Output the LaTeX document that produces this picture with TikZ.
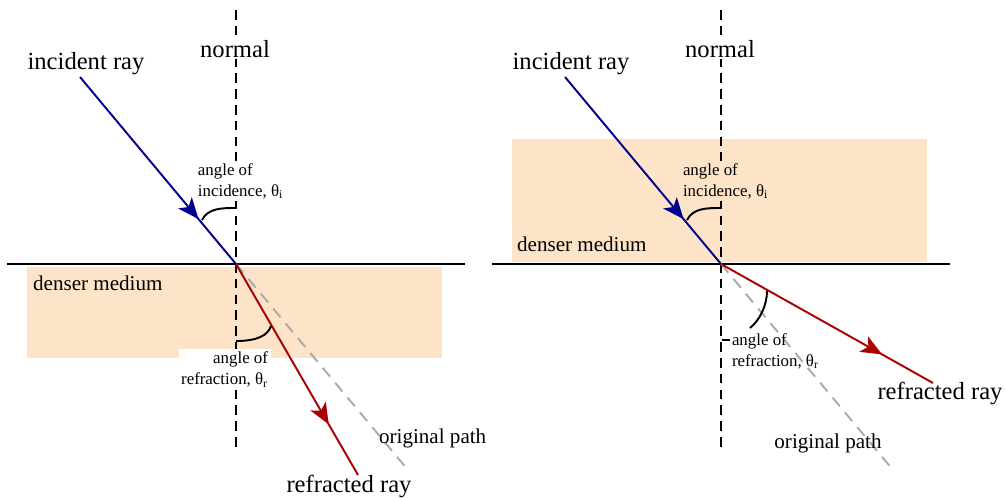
\documentclass[tikz,border=0pt]{standalone}
\usepackage{fontspec}
\setmainfont{Liberation Serif}
\usetikzlibrary{arrows.meta, decorations.markings}
\definecolor{rayblue}{RGB}{0,0,140}
\definecolor{rayred}{RGB}{170,0,0}
\definecolor{denserfill}{RGB}{253,227,199}
\definecolor{pathgray}{RGB}{170,170,170}

\begin{document}
\begin{tikzpicture}[
      x=0.02cm, y=-0.02cm,
      normalline/.style={dash pattern=on 5.5pt off 3.5pt, line width=1.1pt},
      surface/.style={line width=1.3pt},
      ray/.style={line width=1.1pt, draw=#1, postaction={decorate},
                  decoration={markings, mark=at position 0.76 with
                  {\arrow[#1]{Stealth[length=12pt, width=10pt, inset=3pt]}}}},
      oldpath/.style={draw=pathgray, line width=1.1pt, dash pattern=on 6.5pt off 4.5pt},
      anglearc/.style={line width=1.1pt},
      biglabel/.style={font=\fontsize{14}{16}\selectfont, inner sep=1pt},
      medlabel/.style={font=\fontsize{12}{14}\selectfont, inner sep=1pt},
      anglelabel/.style={font=\fontsize{9.6}{11.9}\selectfont, inner sep=1.5pt}
  ]
    \useasboundingbox (0,0) rectangle (1006,497);

    % ---- left: ray enters the denser medium
    \fill[denserfill] (27,267) rectangle (442,358);
    \coordinate (top1) at (236,10);
    \coordinate (bot1) at (236,450);
    \coordinate (O1)   at (236,264);
    \coordinate (src1) at (80,77);
    \coordinate (ref1) at (358,475);
    \coordinate (old1) at (408,470);
    \draw[normalline] (top1) -- (bot1);
    \draw[surface] (7,264) -- (465,264);
    \draw[oldpath] (O1) -- (old1);
    \draw[ray=rayblue] (src1) -- (O1);
    \draw[ray=rayred]  (O1) -- (ref1);
    \draw[anglearc] (202,220) .. controls (208,208) and (222,208) .. (236,208);
    \draw[anglearc] (236,341) .. controls (258,341) and (268,335) .. (271,326);

    \node[biglabel] (inc1) at (86,64) {incident ray};
    \node[biglabel, fill=white] (nrm1) at (235,49) {normal};
    \node[anglelabel, fill=white, anchor=west, align=left] (ai1) at (195,181)
      {angle of\\incidence, θ\textsubscript{i}};
    \node[medlabel, anchor=west] (med1) at (31,283) {denser medium};
    \node[anglelabel, fill=white, anchor=north east, align=right] (ar1) at (271,349)
      {angle of\\refraction, θ\textsubscript{r}};
    \node[medlabel, anchor=west] (op1) at (377,438) {original path};
    \node[biglabel] (rr1) at (349,486) {refracted ray};

    % ---- right: ray leaves the denser medium
    \fill[denserfill] (512,139) rectangle (927,262);
    \coordinate (top2) at (721,10);
    \coordinate (bot2) at (721,450);
    \coordinate (O2)   at (721,264);
    \coordinate (src2) at (565,77);
    \coordinate (ref2) at (933,383);
    \coordinate (old2) at (893,470);
    \draw[normalline] (top2) -- (bot2);
    \draw[surface] (492,264) -- (950,264);
    \draw[oldpath] (O2) -- (old2);
    \draw[ray=rayblue] (src2) -- (O2);
    \draw[ray=rayred]  (O2) -- (ref2);
    \draw[anglearc] (687,220) .. controls (693,208) and (707,208) .. (721,208);
    \draw[anglearc] (767,291) .. controls (767,305) and (760,320) .. (750,328);
    \draw[anglearc] (722,340) -- (730,340);

    \node[biglabel] (inc2) at (571,64) {incident ray};
    \node[biglabel, fill=white] (nrm2) at (720,49) {normal};
    \node[anglelabel, fill=denserfill, anchor=west, align=left] (ai2) at (680,181)
      {angle of\\incidence, θ\textsubscript{i}};
    \node[medlabel, anchor=west] (med2) at (515,244) {denser medium};
    \node[anglelabel, anchor=west, align=left] (ar2) at (729,351)
      {angle of\\refraction, θ\textsubscript{r}};
    \node[medlabel] (op2) at (828,443) {original path};
    \node[biglabel] (rr2) at (940,393) {refracted ray};
  \end{tikzpicture}
\end{document}
